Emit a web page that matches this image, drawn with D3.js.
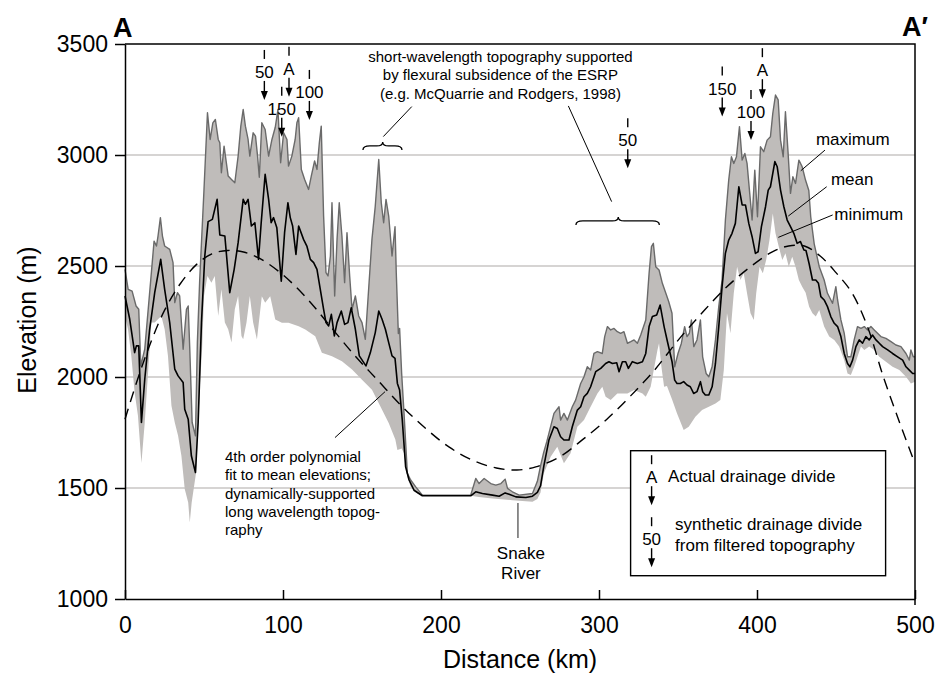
<!DOCTYPE html>
<html>
<head>
<meta charset="utf-8">
<script src="https://cdn.jsdelivr.net/npm/d3@7"></script>
<style>
  body { margin: 0; background: #fff; }
  svg text { font-family: 'Liberation Sans', Arial, sans-serif; fill: #000; }
</style>
</head>
<body>
<div id="graf"></div>
<script>
const maximum = [[0,2485],[2,2395],[4.5,2387],[7,2320],[8.7,2305],[10,2050],[12.5,2125],[15.6,2380],[18.4,2612],[19.9,2590],[20.9,2635],[22.4,2718],[23.7,2635],[25.1,2590],[28.3,2575],[30.4,2515],[31.5,2335],[33.2,2380],[34.6,2365],[36.8,2125],[38.9,2305],[40,2320],[41,2125],[42.5,1795],[44.6,1735],[45.8,2155],[47.3,2440],[50,2845],[52.2,3190],[53.9,3070],[55.6,3145],[57.2,3160],[59,3070],[60,3055],[61,2920],[62.7,3040],[65.3,2905],[67.4,2890],[69.5,2875],[71.6,2995],[73.3,3130],[74.8,3205],[76.2,3130],[77.9,3070],[79,2995],[81.1,3100],[82.6,3085],[83.9,2995],[85,2900],[86.6,3145],[88.7,3115],[90.9,2995],[93,3070],[95.1,3125],[96.8,3205],[98.5,2965],[100.4,3100],[102.5,3070],[103.5,2950],[105.6,2995],[107.7,3070],[108.8,3145],[109.9,3168],[111.6,2935],[113.7,2890],[116.2,2845],[117.9,2905],[120,2973],[121.5,2935],[123,3055],[124.2,3130],[125.7,2725],[127.2,2470],[128.5,2455],[130,2545],[131,2785],[132.7,2365],[134.2,2620],[135.6,2785],[137.3,2635],[139,2425],[140.5,2650],[142.2,2455],[143.7,2305],[145.8,2365],[147.9,2275],[150,2245],[152.1,2170],[154.2,2395],[156.3,2620],[158.4,2770],[160.6,2980],[162.2,2785],[163.7,2695],[165.2,2800],[166.9,2725],[169,2545],[170.9,2677],[171.7,2467],[173,2196],[173.8,2219],[175.1,2016],[176.6,1836],[178.7,1566],[180.8,1536],[184,1505],[188.2,1468],[218.8,1468],[222,1543],[224.1,1520],[227.3,1543],[231.5,1520],[234.7,1513],[237.9,1520],[240.6,1540],[242.1,1498],[245.2,1483],[249.5,1468],[257.9,1475],[261,1530],[263,1600],[265,1660],[267,1710],[268.3,1746],[271.5,1836],[274.7,1866],[275.7,1806],[277.8,1836],[280,1806],[283.1,1866],[285.2,1896],[288.4,1971],[290.5,2001],[292.6,2046],[294.7,2031],[296.8,2106],[299,2114],[302.1,2106],[303.6,2182],[305.3,2227],[307.4,2212],[309.5,2219],[311.6,2204],[313.7,2197],[315.8,2204],[318,2152],[320.1,2159],[322.2,2167],[324.3,2152],[326.4,2189],[329.6,2257],[331.7,2467],[333.2,2587],[334.4,2602],[335.9,2497],[338,2482],[340.1,2422],[342.3,2377],[344.1,2340],[346.2,2287],[347.9,2046],[350,2106],[352.1,2151],[354.2,2227],[355.7,2182],[357.2,2197],[358.5,2257],[360,2137],[362,2167],[364.2,2257],[365.6,2091],[367.8,2016],[369.5,2001],[371.6,2046],[373.7,2167],[375.8,2317],[377.9,2437],[380,2707],[382.1,2887],[383.8,2992],[385.3,2962],[387,2992],[388.9,3128],[390.6,2977],[392.3,3007],[393.7,2962],[395.4,2827],[396.9,2707],[398.6,2932],[400.3,2722],[402.2,3037],[404.3,3015],[406.4,3067],[408.5,3082],[410,3188],[411.7,3270],[413.4,3248],[414.9,3067],[416.6,2992],[418,3195],[419.7,3007],[421.2,2827],[422.7,2902],[424.4,2872],[426.5,2977],[428.6,2947],[430.7,2887],[432.8,2840],[434,2722],[436.2,2600],[439.4,2497],[442.5,2437],[444.6,2377],[447.8,2332],[449.9,2407],[451,2347],[453.1,2257],[455.2,2197],[457.3,2091],[459.4,2091],[461.5,2167],[463.6,2227],[465.8,2219],[467.9,2227],[470,2212],[472.1,2227],[474.2,2212],[476.3,2197],[478.4,2182],[481.6,2174],[484.8,2159],[487.9,2144],[491.1,2137],[494.3,2106],[496.4,2076],[497.4,2122],[498.9,2091],[500,2091]]

const mean = [[0,2365],[3,2260],[6.1,2110],[7.2,2140],[8.7,2140],[10.4,1795],[12.5,1990],[15.6,2215],[18.8,2380],[22.6,2530],[25.1,2395],[28.3,2245],[31.5,2035],[33.6,2005],[36.8,1975],[37.8,1855],[40,1810],[42,1645],[44.6,1570],[46.3,1795],[48.4,2245],[50.5,2545],[52.6,2700],[55.3,2710],[58.3,2800],[60,2640],[63.2,2635],[66.3,2380],[69.1,2485],[71.6,2605],[74.8,2800],[76.2,2778],[77.9,2800],[80,2680],[82.2,2695],[84.5,2530],[86.2,2695],[88.7,2913],[90.9,2800],[92.5,2695],[94,2718],[96.1,2672],[98.9,2432],[101,2650],[103.1,2785],[104.6,2718],[106.1,2680],[108.2,2552],[109.9,2680],[113,2620],[115.1,2590],[117.3,2530],[119.4,2515],[121.5,2485],[123.6,2395],[125.7,2305],[127.2,2245],[128.9,2230],[130.6,2282],[132.5,2185],[134.2,2245],[136.9,2297],[139,2237],[141.1,2245],[143.2,2312],[145.8,2215],[148.3,2095],[152.5,2050],[155.3,2110],[158.4,2200],[160.6,2297],[162.7,2260],[164.8,2215],[166.9,2155],[169,2095],[170.9,2084],[172.4,1971],[173.8,1941],[175.5,1806],[177.6,1596],[179.8,1536],[182.9,1490],[188.2,1465],[218.8,1465],[222,1483],[226.2,1475],[232.6,1468],[236.8,1463],[240.6,1478],[243.1,1472],[247.4,1460],[253.7,1457],[257.9,1463],[261,1480],[263,1510],[265.1,1600],[268.3,1716],[271.5,1776],[273.6,1768],[275.7,1731],[277.8,1716],[281,1716],[283.1,1776],[286.3,1851],[288.4,1866],[290.5,1911],[292.6,1926],[294.7,1956],[297.9,2024],[301.1,2039],[304.2,2061],[306.3,2069],[308.5,2061],[311.2,2064],[312.7,2024],[314.8,2069],[316.9,2069],[318.6,2039],[321.1,2069],[324.3,2061],[327.5,2069],[329.6,2106],[331.7,2227],[333.8,2272],[336.5,2279],[338.7,2324],[341.2,2227],[343.3,2160],[346.2,2070],[347.9,1986],[349.4,1971],[351.5,1971],[353.6,1979],[355.7,1964],[357.8,1956],[359.9,1926],[362,1934],[364.2,1979],[365.6,1934],[367.3,1919],[369.5,1919],[371.6,1956],[373.7,2061],[375.8,2227],[377.9,2407],[380,2557],[382.1,2617],[384.2,2647],[386.3,2692],[388.5,2857],[390.6,2775],[392.7,2775],[394.8,2692],[396.9,2632],[399,2557],[400.7,2564],[402.8,2677],[405.4,2767],[407.1,2842],[408.5,2857],[411.3,2970],[412.8,2947],[414.9,2842],[417,2767],[419.1,2707],[421.2,2677],[423.3,2647],[425.4,2602],[427.5,2610],[429.7,2572],[431,2570],[433,2510],[435.1,2437],[437.2,2437],[438.9,2422],[440.4,2362],[442.5,2347],[444.6,2317],[446.7,2272],[448.9,2242],[451,2227],[453.1,2182],[455.2,2106],[457.3,2061],[458.8,2046],[460.5,2076],[462.6,2137],[464.7,2167],[466.8,2152],[468.9,2182],[471,2167],[473.1,2189],[475.3,2167],[477.4,2152],[479.5,2137],[482.7,2122],[485.8,2106],[489,2091],[492.2,2076],[494.3,2046],[496.4,2031],[498.5,2016],[500,2016]]

const minimum = [[0,2275],[1.9,2215],[4,2095],[6.1,1930],[8.2,1825],[10.4,1613],[12.5,1795],[14.6,2020],[16.7,2245],[18.8,2245],[20.9,2260],[23,2275],[25.1,2215],[27.2,2095],[29.4,1870],[31.5,1795],[33.6,1735],[35.7,1645],[37.8,1495],[40,1435],[41,1345],[42.2,1435],[45,1570],[47.3,1945],[48.8,2125],[50,2365],[52.2,2455],[54.7,2425],[56.8,2455],[59,2275],[61,2395],[63.2,2245],[65.3,2215],[67.4,2155],[69.5,2305],[71.6,2365],[73.7,2185],[74.8,2170],[76.9,2245],[79,2365],[81.1,2245],[83.5,2169],[86.6,2364],[88.7,2334],[91.9,2364],[95.1,2259],[99.3,2244],[103.5,2244],[109.9,2229],[114.1,2214],[120.4,2184],[124.6,2109],[131,2094],[137.3,2071],[143.7,2034],[150,1988],[156.3,1943],[162.7,1853],[166.9,1793],[171.1,1718],[172.4,1671],[175.1,1678],[176.6,1656],[178.7,1551],[180.8,1506],[185,1475],[188.2,1465],[218.8,1465],[224,1460],[232.6,1453],[245.2,1445],[257.9,1438],[261,1450],[263,1480],[265.1,1566],[269.4,1641],[273.6,1686],[277.8,1611],[282,1656],[286.3,1776],[290.5,1806],[294.7,1866],[299,1926],[302.1,1956],[304.2,1911],[307.4,1896],[311.6,1926],[318,1926],[322.2,1941],[327.5,1926],[329.6,1911],[332.7,1956],[337,2122],[338,2152],[339.5,2046],[341.2,1956],[343,1960],[346.2,1900],[349.4,1836],[353.6,1761],[356.8,1776],[361,1821],[365.2,1851],[369.5,1866],[373.7,1881],[376.8,1896],[379,2031],[381,2287],[383.2,2197],[385.3,2377],[387.4,2497],[389.5,2437],[391.6,2467],[393.7,2377],[395.9,2287],[398,2257],[399.5,2377],[401.6,2497],[403.7,2467],[405.8,2527],[407.9,2617],[410,2737],[411.7,2647],[413.8,2587],[416,2527],[418,2557],[420.1,2497],[422.3,2542],[424.4,2497],[426.5,2437],[428.6,2407],[430.8,2380],[433,2317],[435.1,2287],[437.2,2272],[439.4,2302],[442.5,2227],[445.7,2182],[448.9,2167],[452,2137],[455.2,2076],[457.3,2016],[459.4,2009],[461.5,2046],[463.6,2091],[465.8,2137],[467.9,2122],[471,2137],[474.2,2122],[477.4,2091],[481.6,2069],[485.8,2046],[490.1,2031],[494.3,2001],[497.4,1971],[500,1979]]

const polyFit = [[0,1810],[8,1990],[16,2150],[25,2300],[35,2420],[45,2505],[55,2555],[65,2570],[75,2563],[85,2535],[100,2460],[115,2355],[130,2228],[145,2100],[160,1985],[175,1870],[190,1770],[205,1685],[220,1625],[235,1590],[248,1581],[260,1595],[275,1640],[290,1720],[305,1810],[320,1915],[335,2030],[350,2165],[365,2287],[380,2400],[395,2492],[410,2565],[420,2590],[430,2590],[440,2545],[450,2470],[460,2380],[470,2225],[480,2000],[490,1800],[500,1610]]

const xTicks = [0, 100, 200, 300, 400, 500]
const yTicks = [1000, 1500, 2000, 2500, 3000, 3500]
const gridElev = [1500, 2000, 2500, 3000]

// divisorias de drenaje: etiqueta, km, elevacion de la punta de la flecha
const divideLabels = ['50', 'A', '150', '100', '50', '150', '100', 'A']
const divideKm = [88.2, 103.8, 99.2, 116.7, 318.2, 378, 396.2, 403.4]
const divideTip = [3248, 3262, 3082, 3158, 2940, 3173, 3068, 3256]

const graf = d3.select('#graf')
const anchoTotal = 936
const altoTotal = 675
const margin = { top: 44, right: 21, bottom: 76, left: 125 }
const ancho = anchoTotal - margin.left - margin.right
const alto = altoTotal - margin.top - margin.bottom
const fuente = "'Liberation Sans', Arial, sans-serif"

const svg = graf.append('svg').attr('width', anchoTotal).attr('height', altoTotal)
const g = svg.append('g').attr('transform', `translate(${margin.left}, ${margin.top})`)

const x = d3.scaleLinear().domain([0, 500]).range([0, ancho])
const y = d3.scaleLinear().domain([1000, 3500]).range([alto, 0])

g.selectAll('.grid')
  .data(gridElev)
  .join('line')
  .attr('class', 'grid')
  .attr('x1', 0)
  .attr('x2', ancho)
  .attr('y1', (d) => y(d))
  .attr('y2', (d) => y(d))
  .attr('stroke', '#c8c6c4')
  .attr('stroke-width', 1.5)

const generadorLinea = d3.line().x((d) => x(d[0])).y((d) => y(d[1]))
const generadorCurva = d3.line().x((d) => x(d[0])).y((d) => y(d[1])).curve(d3.curveCatmullRom)

// banda maximo-minimo
g.append('path')
  .attr('d', generadorLinea(maximum.concat(minimum.slice().reverse())) + 'Z')
  .attr('fill', '#bfbcba')

g.append('path')
  .attr('d', generadorLinea(maximum))
  .attr('fill', 'none')
  .attr('stroke', '#6a6a6a')
  .attr('stroke-width', 1.4)
  .attr('stroke-linejoin', 'round')

g.append('path')
  .attr('d', generadorLinea(mean))
  .attr('fill', 'none')
  .attr('stroke', '#000')
  .attr('stroke-width', 1.6)
  .attr('stroke-linejoin', 'round')

g.append('path')
  .attr('d', generadorCurva(polyFit))
  .attr('fill', 'none')
  .attr('stroke', '#000')
  .attr('stroke-width', 1.4)
  .attr('stroke-dasharray', '11,7')

// ejes
const xAxis = g.append('g')
  .attr('transform', `translate(0, ${alto})`)
  .call(d3.axisBottom(x).tickValues(xTicks).tickFormat(d3.format('d'))
    .tickSize(-9).tickSizeOuter(0).tickPadding(18))
const yAxis = g.append('g')
  .call(d3.axisLeft(y).tickValues(yTicks).tickFormat(d3.format('d'))
    .tickSize(10).tickSizeOuter(0).tickPadding(7))

;[xAxis, yAxis].forEach((a) => {
  a.attr('font-family', fuente).attr('font-size', 23)
  a.selectAll('path, line').attr('stroke', '#000').attr('stroke-width', 1.5)
})

// marco superior y derecho
g.append('path')
  .attr('d', `M0,0H${ancho}V${alto + 6}`)
  .attr('fill', 'none')
  .attr('stroke', '#000')
  .attr('stroke-width', 1.5)

svg.append('text')
  .attr('x', 520)
  .attr('y', 668)
  .attr('text-anchor', 'middle')
  .attr('font-size', 25)
  .text('Distance (km)')

svg.append('text')
  .attr('transform', 'translate(36, 320) rotate(-90)')
  .attr('text-anchor', 'middle')
  .attr('font-size', 25)
  .text('Elevation (m)')

svg.append('text').attr('x', 113).attr('y', 37).attr('font-size', 27).attr('font-weight', 'bold').text('A')
svg.append('text').attr('x', 928).attr('y', 36).attr('text-anchor', 'end').attr('font-size', 27).attr('font-weight', 'bold').text('A\u2032')

function divisoria(sel, px, tip, label) {
  const m = sel.append('g')
  m.append('line').attr('x1', px).attr('x2', px).attr('y1', tip - 50).attr('y2', tip - 41)
    .attr('stroke', '#000').attr('stroke-width', 1.4)
  m.append('text').attr('x', px).attr('y', tip - 22).attr('text-anchor', 'middle')
    .attr('font-size', 17).text(label)
  m.append('line').attr('x1', px).attr('x2', px).attr('y1', tip - 19).attr('y2', tip - 8)
    .attr('stroke', '#000').attr('stroke-width', 1.4)
  m.append('path').attr('d', `M${px - 3.5},${tip - 9}L${px + 3.5},${tip - 9}L${px},${tip}Z`)
    .attr('fill', '#000')
}

divideLabels.forEach((lab, i) => divisoria(g, x(divideKm[i]), y(divideTip[i]), lab))

// llaves
function llave(x1, x2, xm, yb) {
  const yf = yb - 4
  const yt = yb - 8
  return `M${x1},${yb}Q${x1},${yf} ${x1 + 7},${yf}L${xm - 6},${yf}Q${xm},${yf} ${xm},${yt}` +
    `Q${xm},${yf} ${xm + 6},${yf}L${x2 - 7},${yf}Q${x2},${yf} ${x2},${yb}`
}
g.append('path').attr('d', llave(x(150.6), x(175.3), x(163.1), y(3023)))
  .attr('fill', 'none').attr('stroke', '#000').attr('stroke-width', 1.3)
g.append('path').attr('d', llave(x(285.4), x(338.2), x(312.2), y(2685)))
  .attr('fill', 'none').attr('stroke', '#000').attr('stroke-width', 1.3)

const lideres = [
  [[181.5, 3218], [163.5, 3083]],
  [[280.6, 3221], [308, 2790]],
  [[132.9, 1727], [164.6, 1934]],
  [[443, 3022], [427.7, 2929]],
  [[444.1, 2857], [419.8, 2725]],
  [[447.9, 2730], [413.5, 2629]],
]
lideres.forEach((l) => {
  g.append('path').attr('d', generadorLinea(l)).attr('stroke', '#000').attr('stroke-width', 1)
})
g.append('path').attr('d', generadorLinea([[248.7, 1432], [248.7, 1275]]))
  .attr('stroke', '#444').attr('stroke-width', 1.2)

function bloque(km, elev, lineas, size, anchor, paso) {
  const t = g.append('text')
    .attr('x', x(km)).attr('y', y(elev))
    .attr('font-size', size).attr('text-anchor', anchor)
  lineas.forEach((s, i) => {
    t.append('tspan').attr('x', x(km)).attr('dy', i === 0 ? 0 : paso).text(s)
  })
}

bloque(237.6, 3419, ['short-wavelength topography supported', 'by flexural subsidence of the ESRP', '(e.g. McQuarrie and Rodgers, 1998)'], 15, 'middle', 18.3)
bloque(63.3, 1618, ['4th order polynomial', 'fit to mean elevations;', 'dynamically-supported', 'long wavelength topog-', 'raphy'], 15, 'start', 18.4)
bloque(250.6, 1179, ['Snake', 'River'], 17, 'middle', 20)
bloque(437.3, 3043, ['maximum'], 17, 'start', 0)
bloque(446.8, 2865, ['mean'], 17, 'start', 0)
bloque(448.9, 2707, ['minimum'], 17, 'start', 0)

// leyenda
const ley = g.append('g').attr('transform', `translate(${x(320)}, ${y(1668)})`)
ley.append('rect').attr('width', 255).attr('height', 125)
  .attr('fill', '#fff').attr('stroke', '#000').attr('stroke-width', 1.4)
divisoria(ley, 21, 54.5, 'A')
divisoria(ley, 21, 116.5, '50')
ley.append('text').attr('x', 37.5).attr('y', 31).attr('font-size', 17).text('Actual drainage divide')
ley.append('text').attr('x', 44.5).attr('y', 79.5).attr('font-size', 17).text('synthetic drainage divide')
ley.append('text').attr('x', 44.5).attr('y', 100).attr('font-size', 17).text('from filtered topography')
</script>
</body>
</html>
